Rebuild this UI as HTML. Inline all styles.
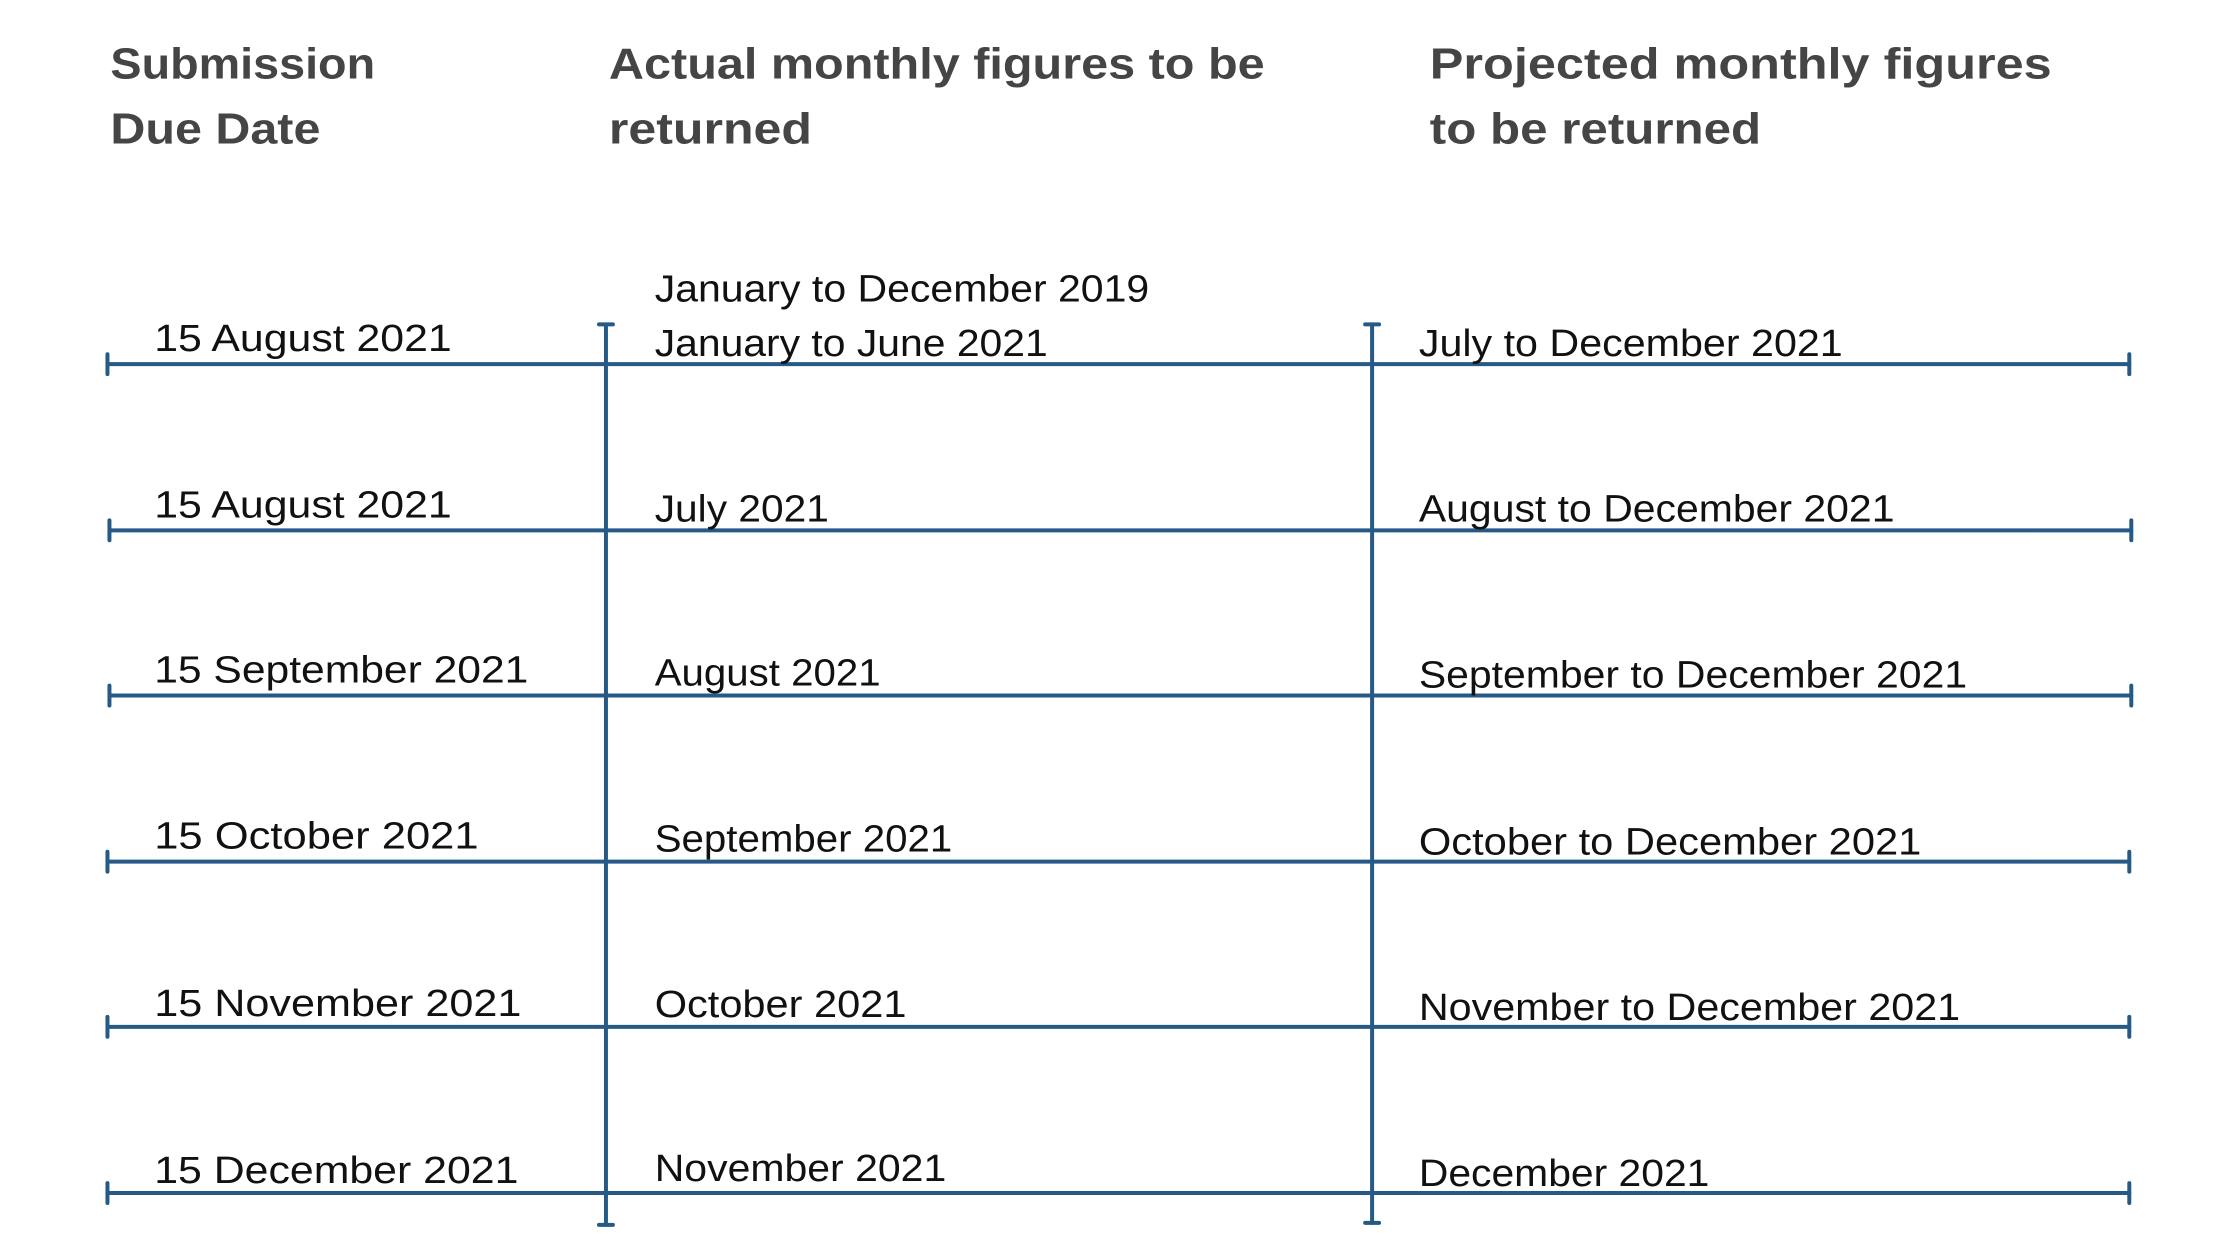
<!DOCTYPE html>
<html><head><meta charset="utf-8"><style>
html,body{margin:0;padding:0;background:#fff;}
svg{display:block;}
text{font-family:"Liberation Sans",sans-serif;}
.h{font-weight:bold;font-size:44px;fill:#454545;}
.b{font-size:38px;fill:#111;}
</style></head><body>
<svg width="2240" height="1260" viewBox="0 0 2240 1260">
<g transform="scale(0.995)">
<g class="h">
<text x="111" y="79" textLength="266" lengthAdjust="spacingAndGlyphs">Submission</text>
<text x="111" y="144" textLength="211" lengthAdjust="spacingAndGlyphs">Due Date</text>
<text x="612" y="79" textLength="659" lengthAdjust="spacingAndGlyphs">Actual monthly figures to be</text>
<text x="612" y="144" textLength="204" lengthAdjust="spacingAndGlyphs">returned</text>
<text x="1437" y="79" textLength="625" lengthAdjust="spacingAndGlyphs">Projected  monthly  figures</text>
<text x="1437" y="144" textLength="333" lengthAdjust="spacingAndGlyphs">to be returned</text>
</g>
<g stroke="#245a85" stroke-width="4" fill="none" stroke-linecap="round">
<line x1="108" y1="366" x2="2140" y2="366"/><line x1="108" y1="356" x2="108" y2="376"/><line x1="2140" y1="356" x2="2140" y2="376"/>
<line x1="110" y1="533" x2="2142" y2="533"/><line x1="110" y1="523" x2="110" y2="543"/><line x1="2142" y1="523" x2="2142" y2="543"/>
<line x1="110" y1="699" x2="2142" y2="699"/><line x1="110" y1="689" x2="110" y2="709"/><line x1="2142" y1="689" x2="2142" y2="709"/>
<line x1="108" y1="866" x2="2140" y2="866"/><line x1="108" y1="856" x2="108" y2="876"/><line x1="2140" y1="856" x2="2140" y2="876"/>
<line x1="108" y1="1032" x2="2140" y2="1032"/><line x1="108" y1="1022" x2="108" y2="1042"/><line x1="2140" y1="1022" x2="2140" y2="1042"/>
<line x1="108" y1="1199" x2="2140" y2="1199"/><line x1="108" y1="1189" x2="108" y2="1209"/><line x1="2140" y1="1189" x2="2140" y2="1209"/>
<line x1="609" y1="326" x2="609" y2="1231"/><line x1="602" y1="326" x2="616" y2="326"/><line x1="602" y1="1231" x2="616" y2="1231"/>
<line x1="1379" y1="326" x2="1379" y2="1229"/><line x1="1372" y1="326" x2="1386" y2="326"/><line x1="1372" y1="1229" x2="1386" y2="1229"/>
</g>
<g class="b">
<text x="155" y="353" textLength="299" lengthAdjust="spacingAndGlyphs">15 August 2021</text>
<text x="155" y="520" textLength="299" lengthAdjust="spacingAndGlyphs">15 August 2021</text>
<text x="155" y="686" textLength="376" lengthAdjust="spacingAndGlyphs">15 September 2021</text>
<text x="155" y="853" textLength="326" lengthAdjust="spacingAndGlyphs">15 October 2021</text>
<text x="155" y="1021" textLength="369" lengthAdjust="spacingAndGlyphs">15 November 2021</text>
<text x="155" y="1189" textLength="366" lengthAdjust="spacingAndGlyphs">15 December 2021</text>

<text x="658" y="303" textLength="497" lengthAdjust="spacingAndGlyphs">January to December 2019</text>
<text x="658" y="358" textLength="395" lengthAdjust="spacingAndGlyphs">January to June 2021</text>
<text x="658" y="524" textLength="175" lengthAdjust="spacingAndGlyphs">July 2021</text>
<text x="658" y="689" textLength="227" lengthAdjust="spacingAndGlyphs">August 2021</text>
<text x="658" y="856" textLength="299" lengthAdjust="spacingAndGlyphs">September 2021</text>
<text x="658" y="1022" textLength="253" lengthAdjust="spacingAndGlyphs">October 2021</text>
<text x="658" y="1187" textLength="293" lengthAdjust="spacingAndGlyphs">November 2021</text>

<text x="1426" y="358" textLength="426" lengthAdjust="spacingAndGlyphs">July to December 2021</text>
<text x="1426" y="524" textLength="478" lengthAdjust="spacingAndGlyphs">August to December 2021</text>
<text x="1426" y="691" textLength="551" lengthAdjust="spacingAndGlyphs">September to December 2021</text>
<text x="1426" y="859" textLength="505" lengthAdjust="spacingAndGlyphs">October to December 2021</text>
<text x="1426" y="1025" textLength="544" lengthAdjust="spacingAndGlyphs">November to December 2021</text>
<text x="1426" y="1192" textLength="292" lengthAdjust="spacingAndGlyphs">December 2021</text>
</g>
</g>
</svg>
</body></html>
